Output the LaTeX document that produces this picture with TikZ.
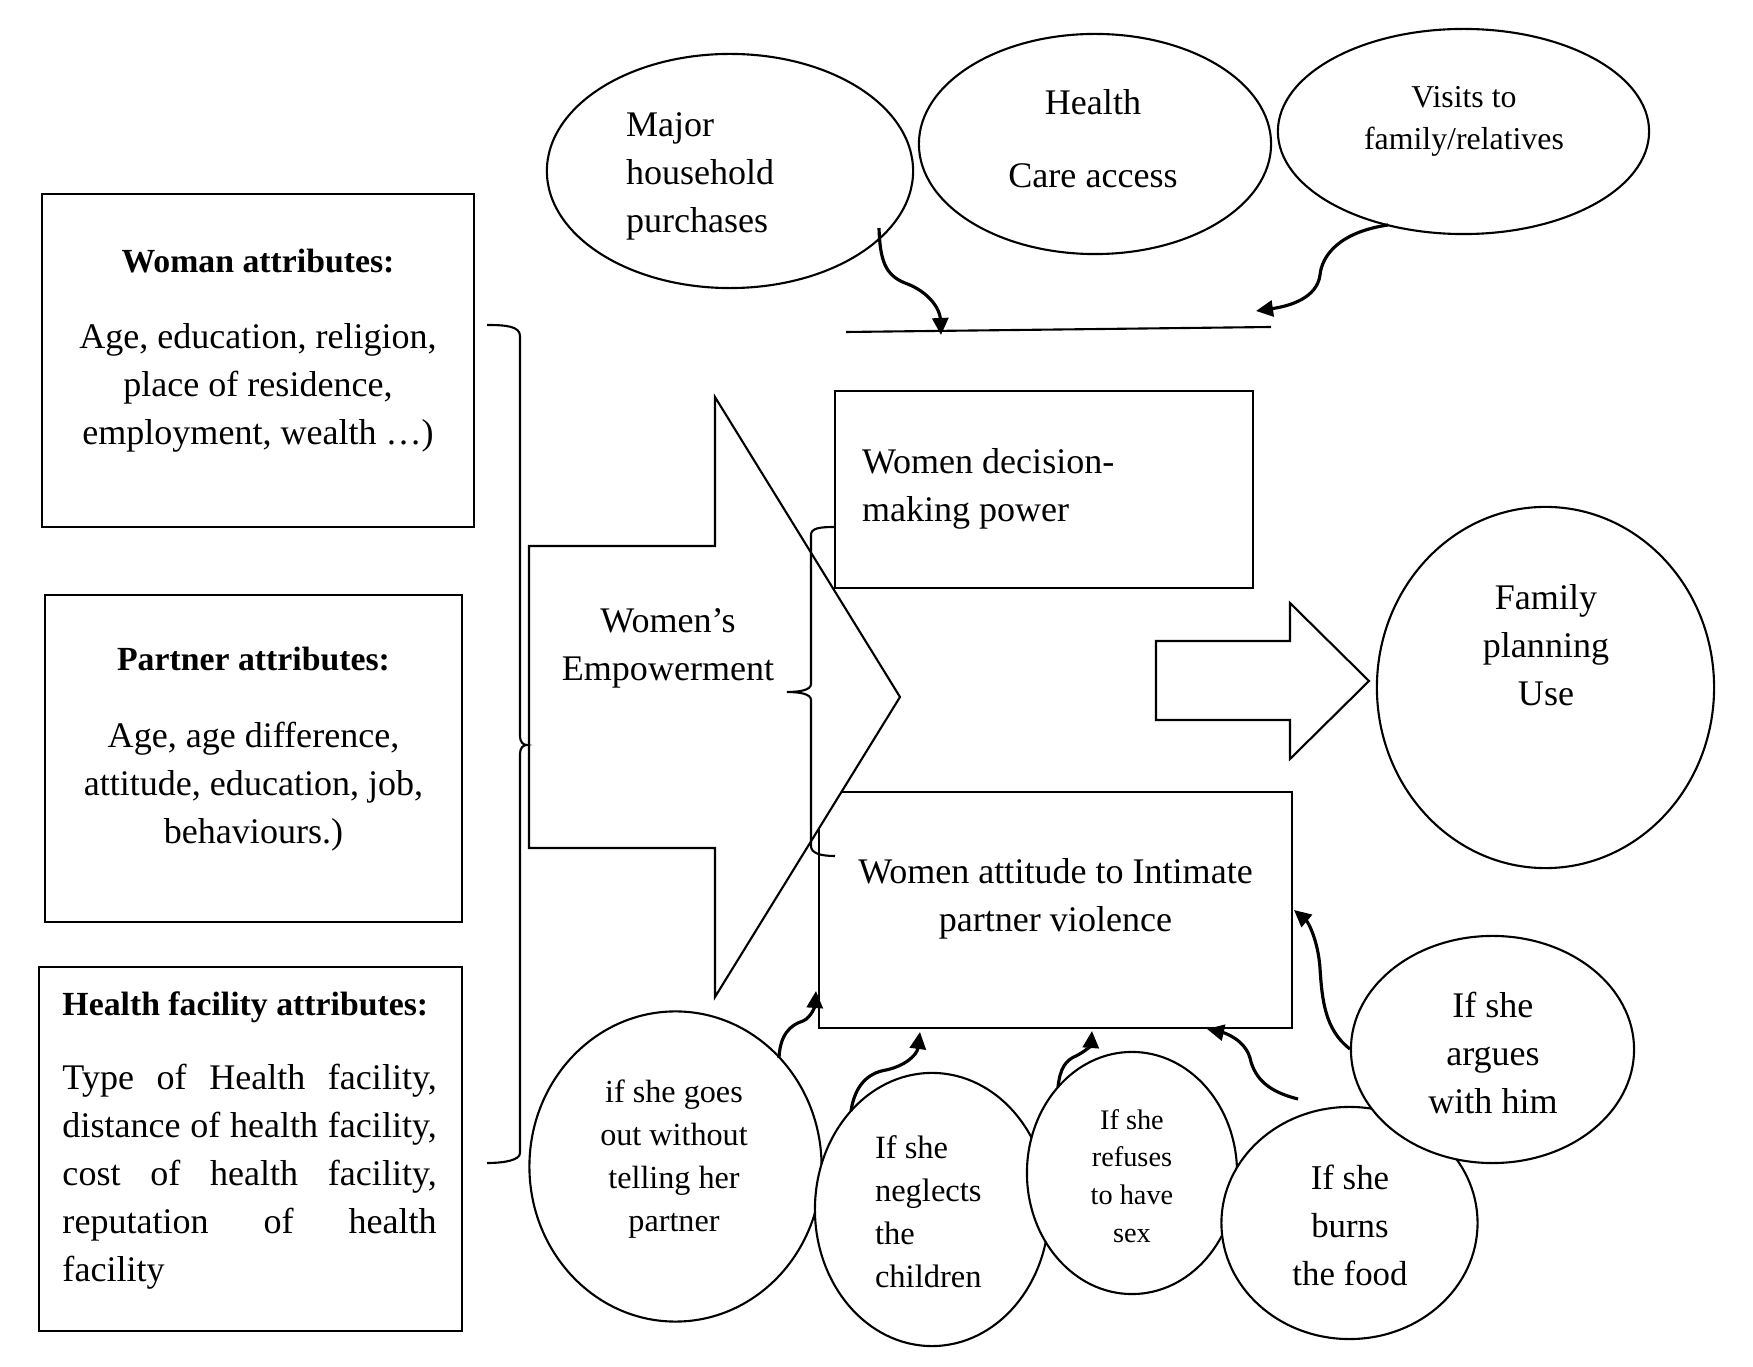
\documentclass[tikz,border=0pt]{standalone}
\usepackage{fontspec}
\setmainfont{Liberation Serif}
\usetikzlibrary{shapes.geometric,arrows.meta}
\newcommand\fA{\fontsize{10.25}{13.66}\selectfont}
\newcommand\fV{\fontsize{9.05}{12.2}\selectfont}
\newcommand\fG{\fontsize{9.15}{12.3}\selectfont}
\newcommand\fN{\fontsize{9.25}{12.3}\selectfont}
\newcommand\fR{\fontsize{8.05}{10.8}\selectfont}
\newcommand\fB{\fontsize{9.9}{13.66}\selectfont}
\newcommand\fT{\fontsize{9.6}{13.66}\selectfont\bfseries}
\newcommand\fst{\rule{0pt}{3mm}}
\newcommand\hl[1]{\makebox[3.74cm][s]{#1}}
\begin{document}
\begin{tikzpicture}[x=0.01cm,y=-0.01cm, line width=0.6pt,
  box/.style={draw, rectangle, inner sep=0pt, outer sep=0pt},
  oval/.style={draw, fill=white, ellipse, inner sep=0pt, outer sep=0pt},
  txt/.style={inner sep=0pt, outer sep=0pt, font=\fA, align=center, anchor=north},
  ltxt/.style={txt, align=left, anchor=north west},
  arr/.style={line width=0.9pt, -{Triangle[length=1.7mm,width=1.6mm]}},
  blockarrow/.style={draw, fill=white, line join=miter},
  brace/.style={line width=0.6pt}]
\useasboundingbox (0,0) rectangle (1753,1367);

% boxes
\node[box, minimum width=4.32cm, minimum height=3.33cm] (woman) at (258,360.5) {};
\node[box, minimum width=4.17cm, minimum height=3.27cm] (partner) at (253.5,758.5) {};
\node[box, minimum width=4.23cm, minimum height=3.64cm] (hfac) at (250.5,1149) {};
\node[box, minimum width=4.18cm, minimum height=1.97cm] (decision) at (1044,489.5) {};
\node[box, minimum width=4.73cm, minimum height=2.36cm] (ipv) at (1055.5,910) {};

% ellipses (later ones lie on top of earlier ones)
\node[oval, minimum width=3.66cm, minimum height=2.34cm] (major) at (730,171) {};
\node[oval, minimum width=3.52cm, minimum height=2.20cm] (health) at (1095,144) {};
\node[oval, minimum width=3.71cm, minimum height=2.05cm] (visits) at (1463.5,131.5) {};
\node[oval, minimum width=3.37cm, minimum height=3.61cm] (fp) at (1545.5,687.5) {};
\node[oval, minimum width=2.92cm, minimum height=3.10cm] (goes) at (675.5,1166.5) {};
\node[oval, minimum width=2.34cm, minimum height=2.73cm] (neglects) at (932,1209.5) {};
\node[oval, minimum width=2.10cm, minimum height=2.42cm] (refuses) at (1132,1173) {};
\node[oval, minimum width=2.56cm, minimum height=2.32cm] (burns) at (1349.5,1223) {};
\node[oval, minimum width=2.83cm, minimum height=2.27cm] (argues) at (1492.5,1049.5) {};

% block arrows
\draw[blockarrow] (529,546) -- (715,546) -- (715,397) -- (900,697) -- (715,997) -- (715,848) -- (529,848) -- cycle;
\draw[blockarrow] (1156,641) -- (1290,641) -- (1290,603) -- (1369,681) -- (1290,759) -- (1290,720) -- (1156,720) -- cycle;

% braces
\draw[brace] (487,325) .. controls (505,325) and (520,326) .. (520,336) -- (520,736)
  .. controls (520,742) and (523,745) .. (527,745) .. controls (523,745) and (520,748) .. (520,754)
  -- (520,1153) .. controls (520,1160) and (505,1163) .. (487,1163);
\draw[brace] (835,527) .. controls (820,527) and (811,528) .. (811,535) -- (811,684)
  .. controls (811,690) and (800,692) .. (787,692) .. controls (800,692) and (811,694) .. (811,700)
  -- (811,846) .. controls (811,853) and (820,856) .. (835,856);

% bar under the top ellipses
\coordinate (barL) at (846,332);
\coordinate (barR) at (1271,327);
\draw (barL) -- (barR);

% curved arrows
\coordinate (a1s) at (879,228);  \coordinate (a1t) at (941,335);
\draw[arr] (a1s) .. controls (880,260) and (885,275) .. (905,283) .. controls (930,292) and (940,310) .. (a1t);
\coordinate (a2s) at (1388,225); \coordinate (a2t) at (1256,311);
\draw[arr] (a2s) .. controls (1340,232) and (1322,255) .. (1320,275) .. controls (1317,298) and (1290,306) .. (a2t);
\coordinate (a3s) at (779,1058); \coordinate (a3t) at (816,991);
\draw[arr] (a3s) .. controls (780,1035) and (790,1025) .. (803,1021) .. controls (812,1017) and (815,1005) .. (a3t);
\coordinate (a4s) at (851,1111); \coordinate (a4t) at (920,1032);
\draw[arr] (a4s) .. controls (855,1085) and (868,1073) .. (886,1070) .. controls (905,1066) and (917,1055) .. (a4t);
\coordinate (a5s) at (1058,1087); \coordinate (a5t) at (1092,1031);
\draw[arr] (a5s) .. controls (1060,1068) and (1066,1060) .. (1076,1056) .. controls (1086,1051) and (1091,1045) .. (a5t);
\coordinate (a6s) at (1298,1099); \coordinate (a6t) at (1207,1029);
\draw[arr] (a6s) .. controls (1270,1092) and (1255,1080) .. (1250,1058) .. controls (1245,1040) and (1225,1033) .. (a6t);
\coordinate (a7s) at (1350,1049); \coordinate (a7t) at (1294,910);
\draw[arr] (a7s) .. controls (1325,1030) and (1322,1000) .. (1320,968) .. controls (1318,940) and (1308,922) .. (a7t);

% texts
\node[txt] (womantxt) at (258,242) {\fst{\fT Woman attributes:}\\[0.28cm]Age, education, religion,\\place of residence,\\employment, wealth \ldots)};
\node[txt] (partnertxt) at (253.5,640) {\fst{\fT Partner attributes:}\\[0.29cm]Age, age difference,\\attitude, education, job,\\behaviours.)};
\node[ltxt] (hfactxt) at (62.5,985) {\fst{\fT Health facility attributes:}\\[0.26cm]\hl{Type of Health facility,}\\\hl{distance of health facility,}\\\hl{cost of health facility,}\\\hl{reputation of health}\\facility};
\node[ltxt] (majortxt) at (626,106) {\fst Major\\household\\purchases};
\node[txt] (healthtxt) at (1093,84) {\fst Health\\[0.25cm]Care access};
\node[txt, font=\fV] (visitstxt) at (1464,77) {\fst Visits to\\family/relatives};
\node[ltxt] (dectxt) at (862,443) {\fst Women decision-\\making power};
\node[txt] (emptxt) at (668,602) {\fst Women’s\\Empowerment};
\node[txt] (fptxt) at (1546,579) {\fst Family\\planning\\Use};
\node[txt] (ipvtxt) at (1055.5,853) {\fst Women attitude to Intimate\\partner violence};
\node[txt, font=\fG] (goestxt) at (674,1072) {\fst if she goes\\out without\\telling her\\partner};
\node[ltxt, font=\fN] (negtxt) at (875,1128) {\fst If she\\neglects\\the\\children};
\node[txt, font=\fR] (reftxt) at (1132,1099) {\fst If she\\refuses\\to have\\sex};
\node[txt, font=\fB] (burntxt) at (1350,1159) {\fst If she\\burns\\the food};
\node[txt] (argtxt) at (1493,987) {\fst If she\\argues\\with him};
\end{tikzpicture}
\end{document}
